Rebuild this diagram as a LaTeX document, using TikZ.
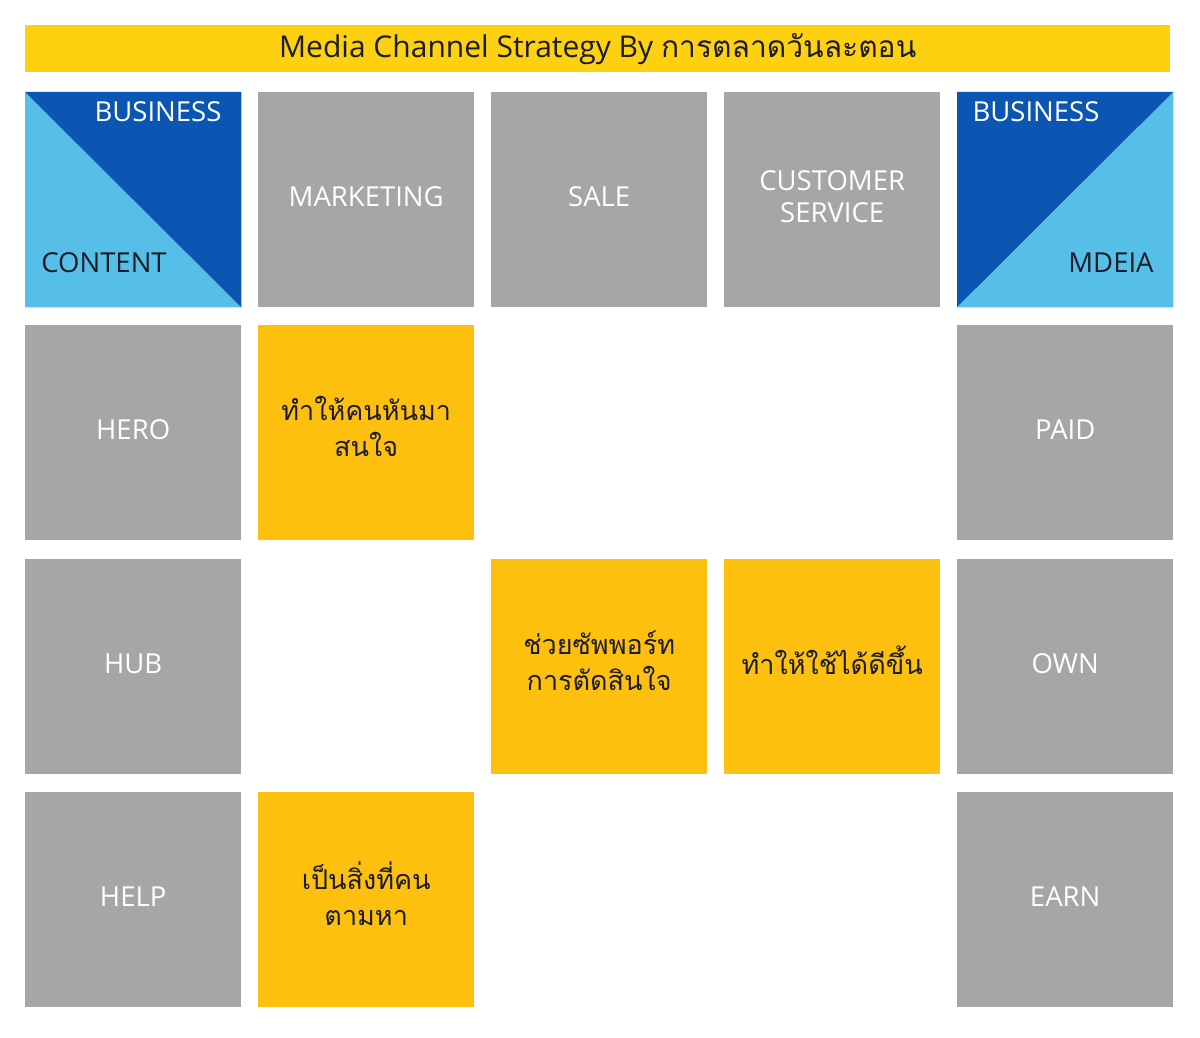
\documentclass[tikz,border=0pt]{standalone}
\usepackage{fontspec}
\setmainfont{Open Sans}
\newfontfamily\thaifont[Script=Thai]{Loma}
\definecolor{titley}{HTML}{FDD10F}
\definecolor{celly}{HTML}{FDC00E}
\definecolor{cellg}{HTML}{A6A6A6}
\definecolor{dblue}{HTML}{0B56B3}
\definecolor{lblue}{HTML}{55BFE8}
\definecolor{dtext}{HTML}{1C1C28}
\tikzset{
  cell/.style={minimum width=216pt,minimum height=215pt,inner sep=0pt,anchor=north west},
  graycell/.style={cell,fill=cellg},
  yelcell/.style={cell,fill=celly},
  blank/.style={cell},
  lab/.style={inner sep=0pt,align=center,font=\fontsize{27.5}{32}\selectfont},
  graylab/.style={lab,text=white,yshift=3pt},
  thailab/.style={inner sep=0pt,align=center,text=dtext,yshift=6pt,font=\thaifont\fontsize{27}{36}\selectfont}
}
\begin{document}
\begin{tikzpicture}[x=1pt,y=-1pt]
\useasboundingbox (0,0) rectangle (1200,1038);
\node[fill=titley,minimum width=1145pt,minimum height=47pt,inner sep=0pt,anchor=north west,font=\fontsize{30}{36}\selectfont,text=dtext] (title) at (25,25) {Media Channel Strategy By {\thaifont การตลาดวันละตอน}};
% row 1
\node[blank] (bc) at (25,92) {};
\fill[lblue] (bc.north west) -- (bc.south east) -- (bc.south west) -- cycle;
\fill[dblue] (bc.north west) -- (bc.north east) -- (bc.south east) -- cycle;
\node[lab,text=white,anchor=center] (bcb) at (158,112) {BUSINESS};
\node[lab,text=dtext,anchor=center] (bcc) at (104,263) {CONTENT};
\node[graycell] (mkt) at (258,92) {};
\node[graylab] at (mkt) {MARKETING};
\node[graycell] (sale) at (491,92) {};
\node[graylab] at (sale) {SALE};
\node[graycell] (cs) at (724,92) {};
\node[graylab] at (cs) {CUSTOMER\\SERVICE};
\node[blank] (bm) at (957,92) {};
\fill[dblue] (bm.north west) -- (bm.north east) -- (bm.south west) -- cycle;
\fill[lblue] (bm.north east) -- (bm.south east) -- (bm.south west) -- cycle;
\node[lab,text=white,anchor=center] (bmb) at (1036,112) {BUSINESS};
\node[lab,text=dtext,anchor=center] (bmm) at (1111,263) {MDEIA};
% row 2
\node[graycell] (hero) at (25,325) {};
\node[graylab] at (hero) {HERO};
\node[yelcell] (y1) at (258,325) {};
\node[thailab] at (y1) {ทำให้คนหันมา\\สนใจ};
\node[graycell] (paid) at (957,325) {};
\node[graylab] at (paid) {PAID};
% row 3
\node[graycell] (hub) at (25,559) {};
\node[graylab] at (hub) {HUB};
\node[yelcell] (y2) at (491,559) {};
\node[thailab] at (y2) {ช่วยซัพพอร์ท\\การตัดสินใจ};
\node[yelcell] (y3) at (724,559) {};
\node[thailab] at (y3) {ทำให้ใช้ได้ดีขึ้น};
\node[graycell] (own) at (957,559) {};
\node[graylab] at (own) {OWN};
% row 4
\node[graycell] (help) at (25,792) {};
\node[graylab] at (help) {HELP};
\node[yelcell] (y4) at (258,792) {};
\node[thailab] at (y4) {เป็นสิ่งที่คน\\ตามหา};
\node[graycell] (earn) at (957,792) {};
\node[graylab] at (earn) {EARN};
\end{tikzpicture}
\end{document}
